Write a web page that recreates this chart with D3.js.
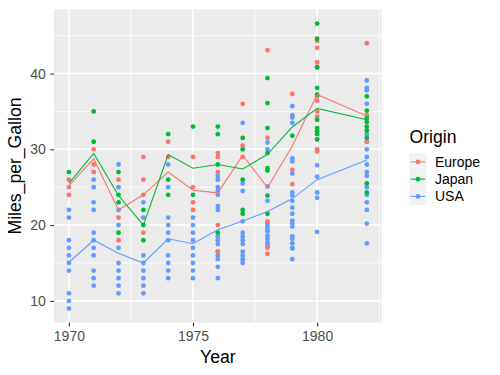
<!DOCTYPE html>
<html><head><meta charset="utf-8">
<script src="https://cdn.jsdelivr.net/npm/d3@7"></script>
<style>body{margin:0;background:#fff}svg{display:block;font-family:"Liberation Sans",Arial,sans-serif}</style>
</head><body><svg id="c" width="500" height="375"></svg>
<script>
const years = [1970,1971,1972,1973,1974,1975,1976,1977,1978,1979,1980,1982];
const origins = ["Europe","Japan","USA"];
const colors = ["#F8766D","#00BA38","#619CFF"];
const europeMpg = [
 [26,25,24],[30,28,27],[26,21,18],[29,26,24,19],[31,29],[29,25,23,22],
 [29.5,29,27,20,16.5],[36,30.5,29],[43.1,31.5,20.5,17,16.2],[37.3,27.3,25.4],
 [44.3,43.4,41.5,40.9,37,36.4,35,34.3,30,29.7],[44,34.5,31]
];
const japanMpg = [
 [27],[35,31],[27,24,23,19],[22,20,18],[32,26,24],[33,24],[33,32,28,19],
 [31.5,30,26,22,21.5],[39.4,36.1,32.8,29.5,27.5,27.2,23.9,21.5],[31.8],
 [46.6,44.6,40.8,38.1,37.2,33.9,32.8,32.4,32,31.3],
 [37,35.1,34.1,33.6,33,32.5,31.5,25.5,24.3]
];
const usaMpg = [
 [22,21,18,17,16,15,14,11,10,9],
 [26,25,23,22,19,18,17,16,14,13,12],
 [28,25,22,20,17,15,14,13,12,11],
 [23,21,16,15,14,13,12,11],
 [28,25,21,20,19,18,16,15,14,13],
 [21,20,19,18,17,16,15,14,13],
 [26.5,26,25,24.5,24,22.5,22,18.5,18,17.5,16.5,16,15.5,14.5,13],
 [33.5,25.5,24.5,20.5,19,18.5,18,17.5,16.5,16,15.5,15],
 [30.9,30,25.1,23.2,20.2,19.8,19.4,19.2,18.6,18.2,17.7,17.5,17.2],
 [35.7,34.5,34.2,33.5,28.8,28.4,26.8,24.3,23.9,23.2,22.3,21.5,20.6,20.2,19.8,18.5,18.2,17.6,17,16.9,15.5],
 [27.9,26.4,24.3,23.6,19.1],
 [39.1,38.1,37.8,36,32,31,30,29,28,27,26.5,25,24,23,22,20.2,17.6]
];
const europeMean = [25.2,28.75,22.0,24.0,27.0,24.6,24.25,29.2,24.95,30.45,37.25,34.4];
const japanMean  = [25.5,29.45,23.9,20.0,29.3,27.5,28.0,27.4,29.35,32.95,35.4,33.9];
const usaMean    = [15.1,18.0,16.3,15.0,18.2,17.55,19.4,20.55,21.8,23.5,26.0,28.6];
const yTicks = [10,20,30,40];
const xTickYears = [1970,1975,1980];

const seriesPts = [usaMpg, europeMpg, japanMpg];
const seriesCol = [colors[2], colors[0], colors[1]];
const means = [europeMean, japanMean, usaMean];

const svg = d3.select("#c");
const L = 54, R = 381.7, T = 9.3, B = 322.7;
const dt = y => new Date(Date.UTC(y,0,1));
const x0 = dt(years[0]).getTime(), x1 = dt(years[years.length-1]).getTime();
const xpad = (x1-x0)*0.05;
const x = d3.scaleUtc().domain([new Date(x0-xpad), new Date(x1+xpad)]).range([L,R]);
const allV = [].concat(...europeMpg.flat(), ...japanMpg.flat(), ...usaMpg.flat());
const vmin = d3.min(allV), vmax = d3.max(allV), vpad = (vmax-vmin)*0.05;
const y = d3.scaleLinear().domain([vmin-vpad, vmax+vpad]).range([B,T]);

svg.append("rect").attr("x",L).attr("y",T).attr("width",R-L).attr("height",B-T).attr("fill","#EBEBEB");
const g = svg.append("g");
// minor grid
const yMinor = [15,25,35,45];
yMinor.forEach(v=>g.append("line").attr("x1",L).attr("x2",R).attr("y1",y(v)).attr("y2",y(v)).attr("stroke","#fff").attr("stroke-width",0.8));
[1972.5,1977.5,1982.5].forEach(v=>{const xx = x(new Date(Date.UTC(Math.floor(v),6,2)));
 g.append("line").attr("x1",xx).attr("x2",xx).attr("y1",T).attr("y2",B).attr("stroke","#fff").attr("stroke-width",0.8);});
yTicks.forEach(v=>g.append("line").attr("x1",L).attr("x2",R).attr("y1",y(v)).attr("y2",y(v)).attr("stroke","#fff").attr("stroke-width",1.5));
xTickYears.forEach(v=>g.append("line").attr("x1",x(dt(v))).attr("x2",x(dt(v))).attr("y1",T).attr("y2",B).attr("stroke","#fff").attr("stroke-width",1.5));

// points
seriesPts.forEach((arr,si)=>{
  const pts = [];
  arr.forEach((vals,i)=>vals.forEach(v=>pts.push([years[i],v])));
  svg.append("g").selectAll("circle").data(pts).join("circle")
    .attr("cx",d=>x(dt(d[0]))).attr("cy",d=>y(d[1])).attr("r",2.4).attr("fill",seriesCol[si]);
});
// mean lines
const line = d3.line().x((d,i)=>x(dt(years[i]))).y(d=>y(d));
means.forEach((m,i)=>svg.append("path").attr("d",line(m)).attr("fill","none").attr("stroke",colors[i]).attr("stroke-width",1.1));

// axes
const xa = svg.append("g").attr("transform",`translate(0,${B})`)
  .call(d3.axisBottom(x).tickValues(xTickYears.map(dt)).tickFormat(d3.utcFormat("%Y")).tickSize(3.7).tickPadding(4.5));
const ya = svg.append("g").attr("transform",`translate(${L},0)`)
  .call(d3.axisLeft(y).tickValues(yTicks).tickSize(3.7).tickPadding(4.5));
[xa,ya].forEach(a=>{a.select(".domain").remove();
  a.selectAll(".tick line").attr("stroke","#333").attr("stroke-width",1.1);
  a.selectAll(".tick text").attr("fill","#4D4D4D").attr("font-size",14).attr("font-family","Liberation Sans, Arial, sans-serif");});

svg.append("text").attr("x",(L+R)/2).attr("y",362.8).attr("text-anchor","middle").attr("font-size",17.6).attr("fill","#000").text("Year");
svg.append("text").attr("transform","translate(21,166) rotate(-90)").attr("text-anchor","middle").attr("font-size",17.6).attr("fill","#000").text("Miles_per_Gallon");

// legend
const lg = svg.append("g");
lg.append("text").attr("x",409.5).attr("y",142.7).attr("font-size",17.6).attr("fill","#000").text("Origin");
origins.forEach((o,i)=>{
  const ky = 153.3 + i*17.25;
  lg.append("rect").attr("x",409.3).attr("y",ky).attr("width",17.4).attr("height",17.25).attr("fill","#F2F2F2");
  lg.append("line").attr("x1",410.7).attr("x2",425.3).attr("y1",ky+8.6).attr("y2",ky+8.6).attr("stroke",colors[i]).attr("stroke-width",1.1);
  lg.append("circle").attr("cx",418).attr("cy",ky+8.6).attr("r",2.4).attr("fill",colors[i]);
  lg.append("text").attr("x",435).attr("y",ky+8.6).attr("dy","0.36em").attr("font-size",14).attr("fill","#000").text(o);
});
</script></body></html>
